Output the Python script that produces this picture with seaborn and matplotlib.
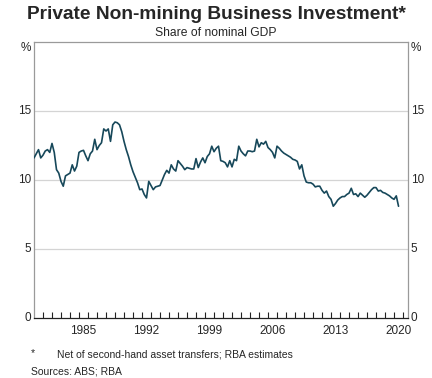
import numpy as np
import pandas as pd
import matplotlib
matplotlib.use("Agg")
import matplotlib.pyplot as plt
import seaborn as sns

# quarterly share of nominal GDP (%), 1980 Q1 onwards
investment = [
    11.6, 11.9, 12.2, 11.6,   # 1980
    11.8, 12.1, 12.2, 12.0,   # 1981
    12.65, 12.0, 10.75, 10.5, # 1982
    9.9, 9.55, 10.3, 10.4,    # 1983
    10.5, 11.1, 10.65, 11.0,  # 1984
    12.0, 12.1, 12.15, 11.75, # 1985
    11.4, 11.9, 12.1, 12.95,  # 1986
    12.2, 12.5, 12.7, 13.7,   # 1987
    13.55, 13.7, 12.8, 14.0,  # 1988
    14.2, 14.15, 14.0, 13.5,  # 1989
    12.8, 12.2, 11.7, 11.1,   # 1990
    10.6, 10.2, 9.8, 9.3,     # 1991
    9.35, 8.95, 8.7, 9.9,     # 1992
    9.6, 9.3, 9.5, 9.55,      # 1993
    9.6, 10.0, 10.4, 10.7,    # 1994
    10.5, 11.1, 10.8, 10.65,  # 1995
    11.4, 11.2, 11.0, 10.75,  # 1996
    10.9, 10.85, 10.8, 10.8,  # 1997
    11.55, 10.9, 11.3, 11.6,  # 1998
    11.25, 11.7, 11.9, 12.45, # 1999
    12.05, 12.3, 12.45, 11.4, # 2000
    11.35, 11.25, 10.95, 11.4, # 2001
    10.95, 11.5, 11.4, 12.45, # 2002
    12.1, 11.9, 11.75, 12.1,  # 2003
    12.1, 12.05, 12.1, 12.95, # 2004
    12.4, 12.7, 12.6, 12.8,   # 2005
    12.35, 12.2, 12.0, 11.6,  # 2006
    12.45, 12.3, 12.1, 11.95, # 2007
    11.85, 11.75, 11.65, 11.5, # 2008
    11.45, 11.35, 10.8, 11.1, # 2009
    10.3, 9.85, 9.8, 9.8,     # 2010
    9.7, 9.5, 9.55, 9.55,     # 2011
    9.25, 9.05, 9.2, 8.8,     # 2012
    8.6, 8.1, 8.3, 8.55,      # 2013
    8.7, 8.8, 8.8, 8.95,      # 2014
    9.05, 9.4, 8.95, 9.0,     # 2015
    8.8, 9.05, 8.9, 8.75,     # 2016
    8.9, 9.1, 9.3, 9.45,      # 2017
    9.45, 9.2, 9.25, 9.1,     # 2018
    9.05, 8.95, 8.85, 8.7,    # 2019
    8.6, 8.85, 8.1,           # 2020
]
start_year = 1980
year_labels = [1985, 1992, 1999, 2006, 2013, 2020]
y_ticks = [0, 5, 10, 15, 20]
y_labels = ["0", "5", "10", "15", "%"]

df = pd.DataFrame({
    "t": start_year + np.arange(len(investment)) / 4,
    "share": investment,
})

sns.set_style("white")
plt.rcParams["font.family"] = ["Liberation Sans", "DejaVu Sans"]

fig = plt.figure(figsize=(4.32, 3.78), dpi=100)
ax = fig.add_axes([0.0787, 0.1587, 0.8657, 0.7302])

for v in [5, 10, 15]:
    ax.axhline(v, color="#d4d4d4", linewidth=0.9, zorder=1)

sns.lineplot(data=df, x="t", y="share", color="#17485a", linewidth=1.2, ax=ax, zorder=3)

ax.set_xlim(1980.0, 2021.55)
ax.set_ylim(0, 20)

# year boundary ticks, labels centred on the year
ax.set_xticks(np.arange(1981, 2022))
ax.set_xticklabels([])
ax.tick_params(axis="x", which="major", direction="in", length=4, width=0.8,
               color="#222222", bottom=True)
ax.set_xticks([y + 0.5 for y in year_labels], [str(y) for y in year_labels], minor=True)
ax.tick_params(axis="x", which="minor", length=0, labelsize=8.5, pad=5)

ax.set_yticks(y_ticks, y_labels)
ax.tick_params(axis="y", length=0, labelsize=8.5, pad=2,
               left=True, right=True, labelleft=True, labelright=True)
for lab in ax.get_yticklabels():
    lab.set_va("top" if lab.get_text() == "%" else "center")

ax.set_xlabel("")
ax.set_ylabel("")

for side in ["left", "right", "top"]:
    ax.spines[side].set_color("#9a9a9a")
    ax.spines[side].set_linewidth(0.9)
ax.spines["bottom"].set_color("#222222")
ax.spines["bottom"].set_linewidth(0.9)

fig.text(0.5, 0.961, "Private Non-mining Business Investment*", ha="center", va="center",
         fontsize=13.8, fontweight="bold")
fig.text(0.5, 0.914, "Share of nominal GDP", ha="center", va="center", fontsize=8.7)

fig.text(0.072, 0.066, "*", ha="left", va="center", fontsize=7.5)
fig.text(0.132, 0.062, "Net of second-hand asset transfers; RBA estimates", ha="left",
         va="center", fontsize=7.5)
fig.text(0.072, 0.017, "Sources: ABS; RBA", ha="left", va="center", fontsize=7.5)

fig.savefig("out.png", dpi=100)
